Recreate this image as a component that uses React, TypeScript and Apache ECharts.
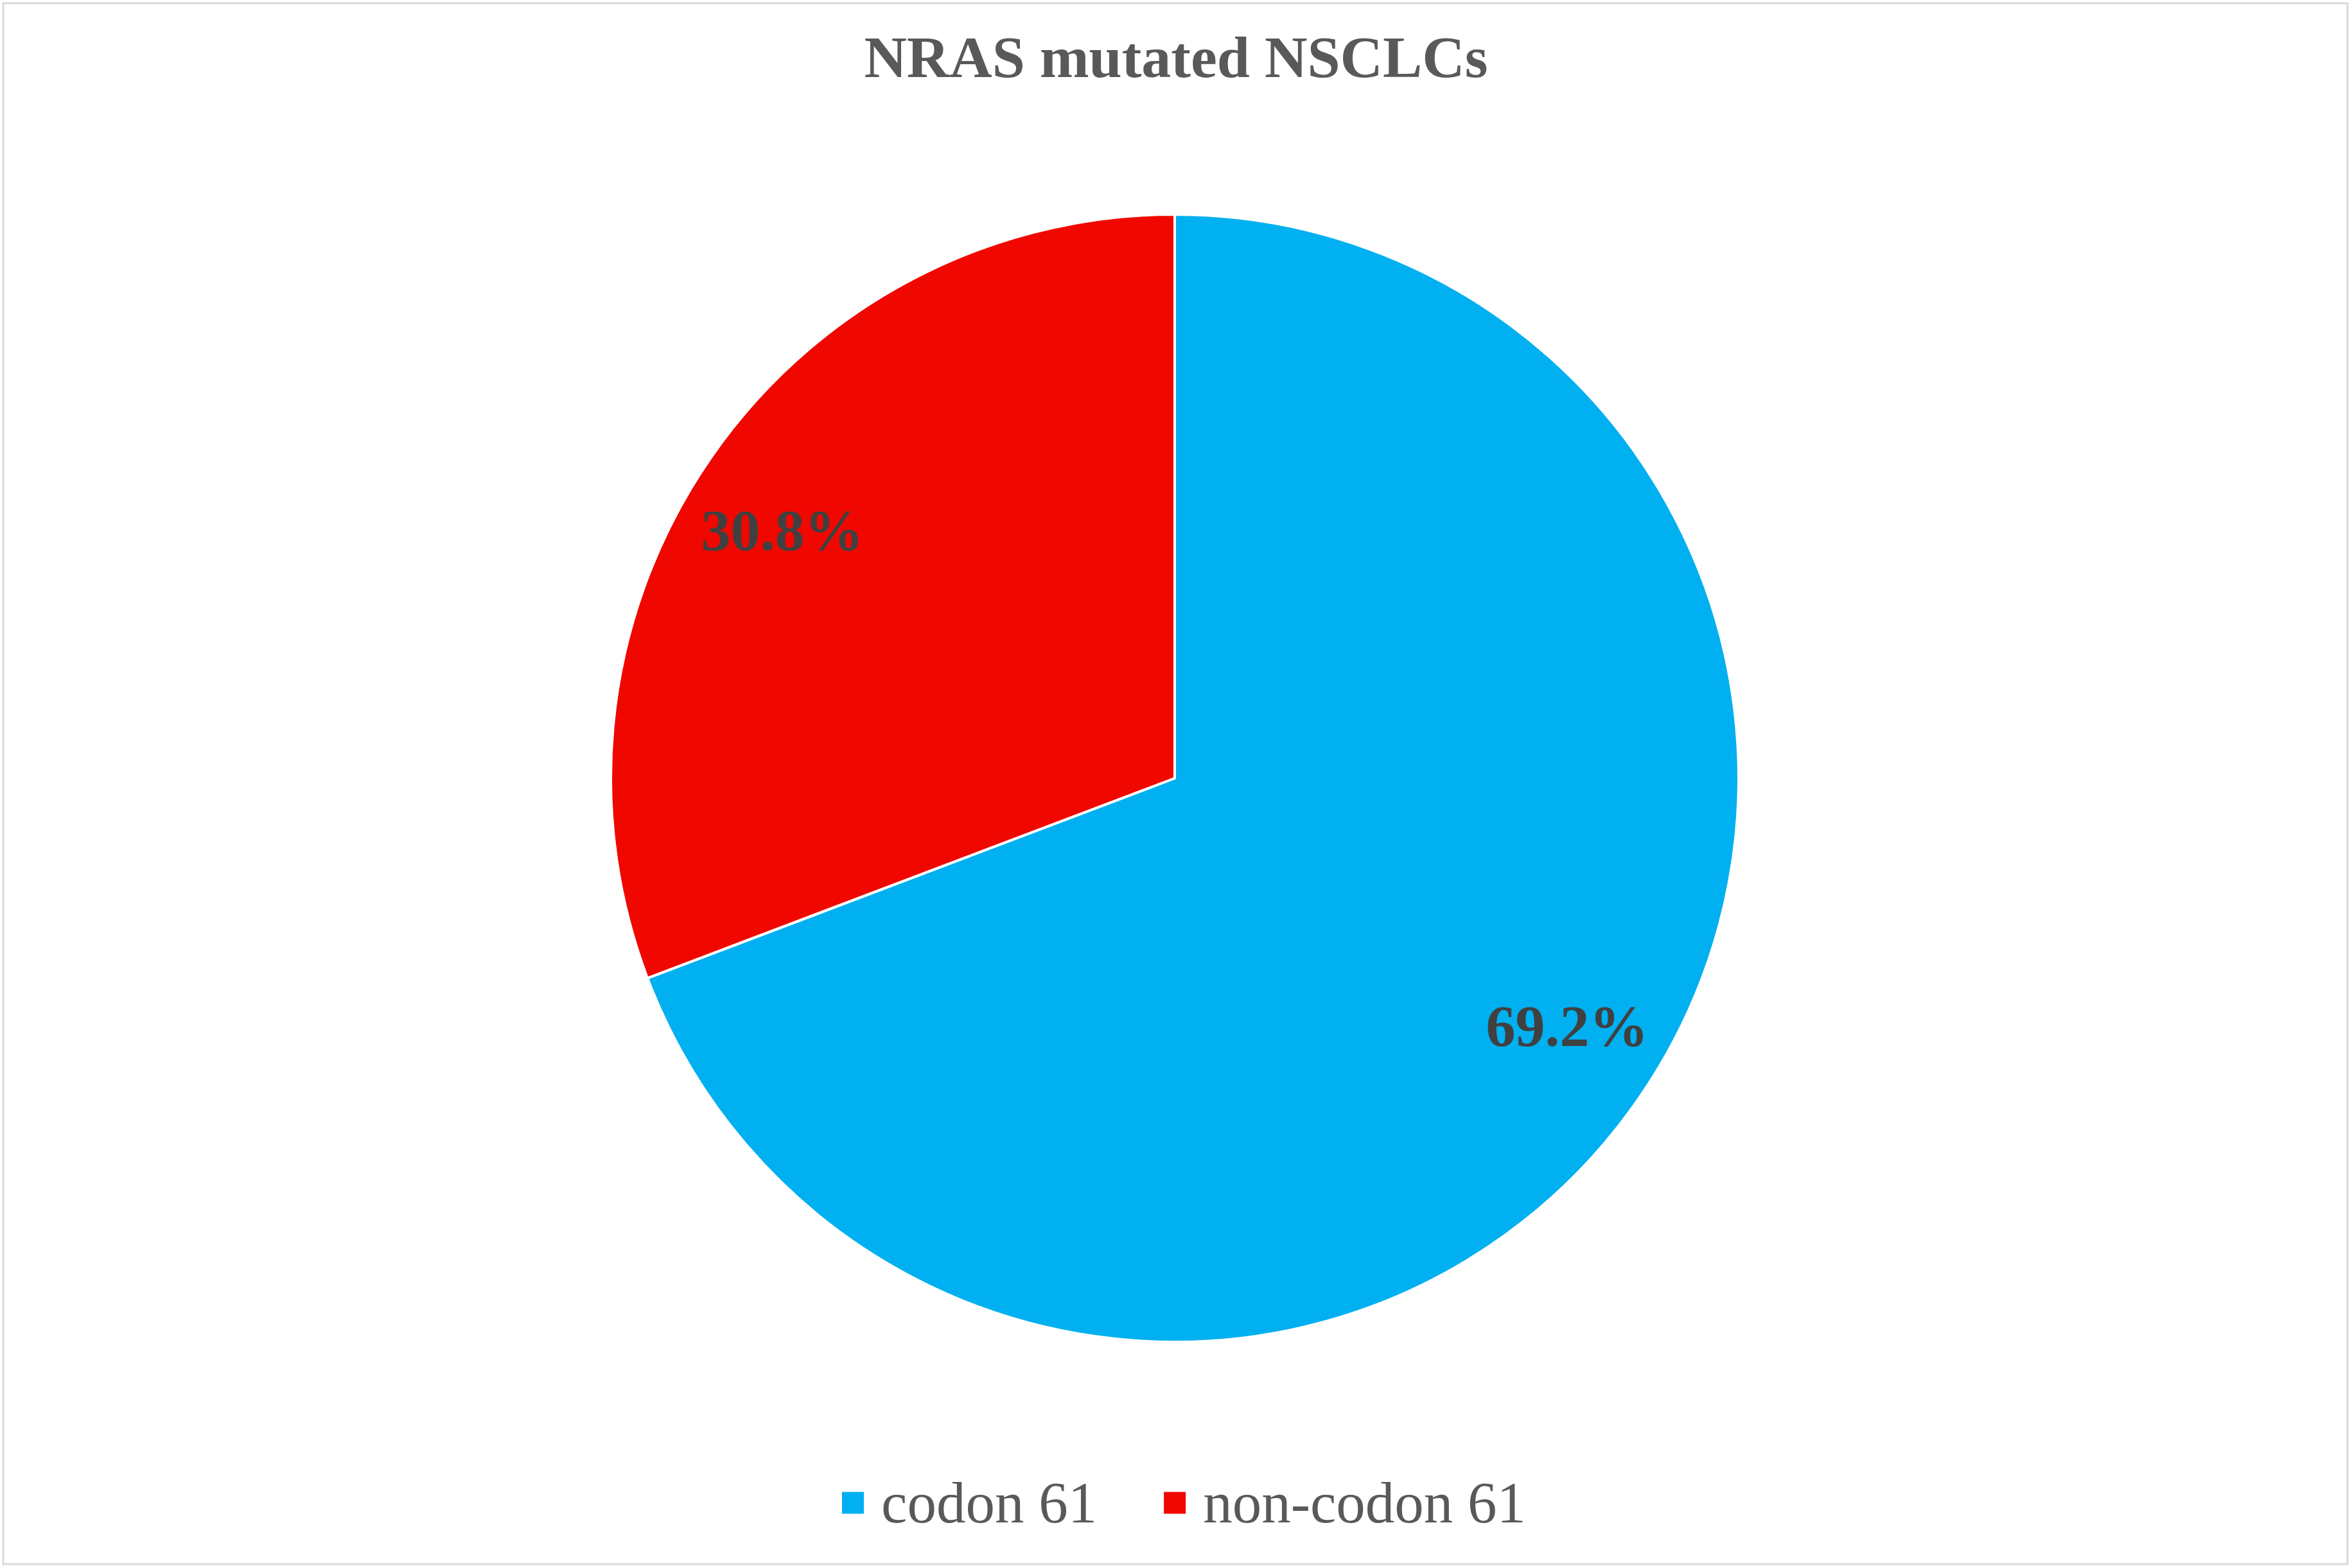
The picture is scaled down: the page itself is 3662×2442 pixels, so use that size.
import React, { useEffect, useRef } from "react";
import * as echarts from "echarts";

const titleText = "NRAS mutated NSCLCs";
const categories = ["codon 61", "non-codon 61"];
const counts = [9, 4];
const colors = ["#00B0F0", "#F00800"];

const W = 3662;
const H = 2442;
const CX = 1829;
const CY = 1212;
const R = 878;

export default function App() {
  const ref = useRef<HTMLDivElement>(null);
  useEffect(() => {
    if (!ref.current) return;
    const chart = echarts.init(ref.current, null, { renderer: "svg" });
    const total = counts.reduce((a, b) => a + b, 0);
    const data = categories.map((name, i) => ({
      name,
      value: counts[i],
      itemStyle: { color: colors[i] },
    }));
    chart.setOption({
      animation: false,
      backgroundColor: "#ffffff",
      title: {
        text: titleText,
        left: "center",
        top: 38,
        textStyle: {
          fontFamily: "Liberation Serif",
          fontWeight: "bold",
          fontSize: 92,
          color: "#595959",
        },
      },
      legend: {
        data: categories,
        left: 1304,
        top: 2290,
        icon: "rect",
        itemWidth: 36,
        itemHeight: 36,
        itemGap: 102,
        textStyle: {
          fontFamily: "Liberation Serif",
          fontSize: 91,
          color: "#595959",
          padding: [0, 0, 0, 21],
        },
      },
      graphic: [
        {
          type: "rect",
          shape: { x: 5, y: 5, width: W - 12, height: H - 11 },
          style: { fill: "none", stroke: "#d9d9d9", lineWidth: 3 },
          silent: true,
        },
      ],
      series: [
        {
          type: "pie",
          center: [CX, CY],
          radius: [0, R],
          startAngle: 90,
          clockwise: true,
          data,
          label: { show: false },
          labelLine: { show: false },
          itemStyle: { borderColor: "#ffffff", borderWidth: 4 },
          silent: true,
        },
        {
          type: "pie",
          center: [CX, CY],
          radius: [R * 0.64, R],
          startAngle: 92.3,
          clockwise: true,
          data: categories.map((name, i) => ({
            name,
            value: counts[i],
            itemStyle: { color: "rgba(0,0,0,0)" },
          })),
          silent: true,
          labelLine: { show: false },
          label: {
            show: true,
            position: "inside",
            formatter: (p: any) => ((p.value / total) * 100).toFixed(1) + "%",
            fontFamily: "Liberation Serif",
            fontWeight: "bold",
            fontSize: 92,
            color: "#404040",
          },
        },
      ],
    });
    return () => chart.dispose();
  }, []);
  return (
    <div
      ref={ref}
      style={{ position: "absolute", left: 0, top: 0, width: W, height: H }}
    />
  );
}
